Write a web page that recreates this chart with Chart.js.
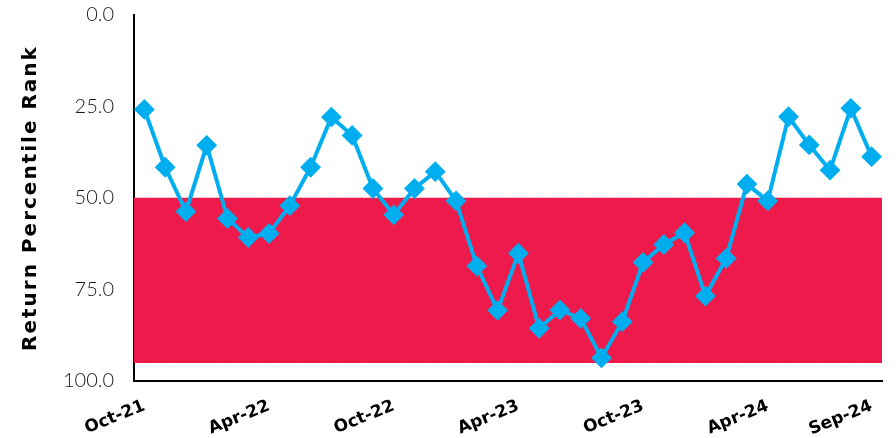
<!DOCTYPE html>
<html>
<head>
<meta charset="utf-8">
<script src="https://cdn.jsdelivr.net/npm/chart.js@4"></script>
<style>
    html, body { margin: 0; padding: 0; background: #fff; }
    #wrap { width: 896px; height: 438px; }
</style>
</head>
<body>
<div id="wrap"><canvas id="myChart" width="896" height="438"></canvas></div>
<script>
// 월별 라벨 (Oct-21 ~ Sep-24)
const months = [
    'Oct-21', 'Nov-21', 'Dec-21', 'Jan-22', 'Feb-22', 'Mar-22',
    'Apr-22', 'May-22', 'Jun-22', 'Jul-22', 'Aug-22', 'Sep-22',
    'Oct-22', 'Nov-22', 'Dec-22', 'Jan-23', 'Feb-23', 'Mar-23',
    'Apr-23', 'May-23', 'Jun-23', 'Jul-23', 'Aug-23', 'Sep-23',
    'Oct-23', 'Nov-23', 'Dec-23', 'Jan-24', 'Feb-24', 'Mar-24',
    'Apr-24', 'May-24', 'Jun-24', 'Jul-24', 'Aug-24', 'Sep-24'
];
// 축에 보이는 라벨
const shownLabels = ['Oct-21', 'Apr-22', 'Oct-22', 'Apr-23', 'Oct-23', 'Apr-24', 'Sep-24'];

// 수익률 백분위 순위
const rankValues = [
    25.8, 41.6, 53.7, 35.6, 55.6, 60.8, 59.7, 52.1, 41.6, 27.9, 32.9, 47.4,
    54.6, 47.4, 42.8, 50.8, 68.6, 80.7, 65.1, 85.6, 80.6, 82.9, 93.7, 83.8,
    67.6, 62.7, 59.5, 76.8, 66.5, 46.2, 50.8, 27.8, 35.5, 42.4, 25.5, 38.7
];

// 빨간 구간 (50 ~ 95)
const bandFrom = 50;
const bandTo = 95;
const tickValues = [0, 25, 50, 75, 100];

const bandData = months.map(() => [bandFrom, bandTo]);

const ctx = document.getElementById('myChart').getContext('2d');
new Chart(ctx, {
    type: 'bar',
    data: {
        labels: months,
        datasets: [{
            type: 'line',
            label: 'Rank',
            data: rankValues,
            borderColor: '#00AEEF',
            backgroundColor: '#00AEEF',
            borderWidth: 4,
            pointStyle: 'rectRot',
            pointRadius: 9,
            pointBorderWidth: 2,
            pointBorderColor: '#00AEEF',
            pointBackgroundColor: '#00AEEF',
            tension: 0,
            order: 0
        }, {
            type: 'bar',
            label: 'Band',
            data: bandData,
            backgroundColor: '#ED1A4B',
            borderWidth: 0,
            barPercentage: 1,
            categoryPercentage: 1,
            order: 1
        }]
    },
    options: {
        responsive: false,
        animation: false,
        layout: {
            padding: { top: 15, right: 14, left: 0, bottom: 0 }
        },
        plugins: {
            legend: { display: false },
            tooltip: { enabled: false },
            title: { display: false }
        },
        scales: {
            x: {
                offset: true,
                grid: { display: false },
                border: { display: true, color: '#000', width: 2 },
                ticks: {
                    autoSkip: false,
                    minRotation: 22,
                    maxRotation: 22,
                    padding: 7,
                    color: '#000',
                    font: { family: 'DejaVu Sans', size: 17, weight: 'bold' },
                    callback: function(value, index) {
                        const lab = months[index];
                        return shownLabels.includes(lab) ? lab : '';
                    }
                },
                afterFit: function(scale) {
                    scale.height = 57;
                }
            },
            y: {
                reverse: true,
                min: tickValues[0],
                max: tickValues[tickValues.length - 1],
                grid: { display: false },
                border: { display: true, color: '#000', width: 2 },
                afterBuildTicks: function(scale) {
                    scale.ticks = tickValues.map(v => ({ value: v }));
                },
                ticks: {
                    padding: 12,
                    color: '#1a1a1a',
                    font: { family: 'Lato', size: 20, weight: '300' },
                    callback: function(value) {
                        return Number(value).toFixed(1);
                    }
                },
                title: {
                    display: true,
                    text: 'Return Percentile Rank',
                    color: '#000',
                    padding: { top: 19, bottom: 0 },
                    font: { family: 'DejaVu Sans', size: 20, weight: 'bold' }
                },
                afterFit: function(scale) {
                    scale.width = 134;
                    scale.paddingTop = 0;
                    scale.paddingBottom = 0;
                    // 축 제목 글자 간격 넓히기
                    if (!scale._spaced) {
                        const orig = scale.drawTitle;
                        scale.drawTitle = function() {
                            const c = this.ctx;
                            c.letterSpacing = '2px';
                            orig.apply(this, arguments);
                            c.letterSpacing = '0px';
                        };
                        scale._spaced = true;
                    }
                }
            }
        }
    }
});
</script>
</body>
</html>
